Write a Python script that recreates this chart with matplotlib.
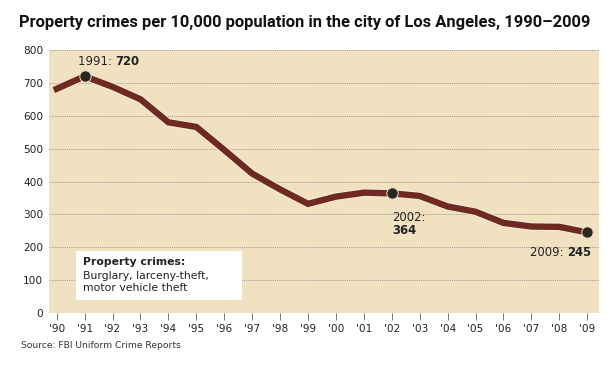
import matplotlib
matplotlib.use("Agg")
import matplotlib.pyplot as plt
import matplotlib.patheffects as pe
from matplotlib.patches import Rectangle

years = list(range(1990, 2010))
values = [682, 720, 688, 650, 580, 566, 496, 424, 376, 332,
          354, 366, 364, 356, 324, 308, 274, 263, 262, 245]
tick_labels = ["'%02d" % (y % 100) for y in years]
highlight_years = [1991, 2002, 2009]
yticks = [0, 100, 200, 300, 400, 500, 600, 700, 800]

title = "Property crimes per 10,000 population in the city of Los Angeles, 1990\u20132009"
source = "Source: FBI Uniform Crime Reports"
box_title = "Property crimes:"
box_body = "Burglary, larceny-theft,\nmotor vehicle theft"

bg = "#f0e1c1"
line_col = "#6e2a22"
dot_col = "#2b2620"
txt = "#222222"

plt.rcParams['font.family'] = ['DejaVu Sans']

fig = plt.figure(figsize=(6.11, 3.65), dpi=100)
ax = fig.add_axes([49/611, 1-313/365, 550/611, 263/365])
ax.set_facecolor(bg)
ax.set_xlim(1989.724, 2009.42)
ax.set_ylim(0, 800)

for s in ax.spines.values():
    s.set_visible(False)

for yv in yticks:
    ax.axhline(yv, color="#a29c90", lw=0.7, ls=(0, (1, 1)), zorder=1)

ax.set_yticks(yticks)
ax.set_yticklabels([str(v) for v in yticks], fontsize=7.6, color=txt)
ax.tick_params(axis='y', length=0, pad=4)
ax.set_xticks(years)
ax.set_xticklabels(tick_labels, fontsize=7.6, color=txt)
ax.tick_params(axis='x', length=5, width=0.7, color="#777777", pad=3, direction='out')

ax.plot(years, values, color=line_col, lw=4.6, solid_joinstyle='miter', zorder=3,
        path_effects=[pe.Stroke(linewidth=6.0, foreground="#f6ecd8"), pe.Normal()])

hx = list(highlight_years)
hy = [values[years.index(y)] for y in highlight_years]
ax.plot(hx, hy, 'o', color=dot_col, ms=8.2, mec="#e8dcc4", mew=0.7, zorder=4)

# annotations
fs = 8.4
ta = ax.text(1990.75, 765, "1991: ", fontsize=fs, color=txt, va='center', ha='left')
ax.annotate("720", xy=(1, 0.5), xycoords=ta, fontsize=fs, color=txt,
            fontweight='bold', va='center', ha='left')
ax.text(2002.0, 292, "2002:", fontsize=fs, color=txt, va='center', ha='left')
ax.text(2002.0, 250, "364", fontsize=fs, color=txt, fontweight='bold', va='center', ha='left')
tb = ax.text(2009.14, 185, "245", fontsize=fs, color=txt, fontweight='bold', va='center', ha='right')
ax.annotate("2009: ", xy=(0, 0.5), xycoords=tb, fontsize=fs, color=txt, va='center', ha='right')

# note box
box = Rectangle((76/611, 1-300/365), (242-76)/611, (300-251)/365,
                transform=fig.transFigure, facecolor='white', edgecolor='none', zorder=5)
fig.patches.append(box)
fig.text(83/611, 1-262/365, box_title, fontsize=7.8, fontweight='bold', color=txt,
         va='center', ha='left', zorder=6)
fig.text(83/611, 1-282/365, box_body, fontsize=7.8, color=txt, va='center', ha='left',
         linespacing=1.15, zorder=6)

fig.text(19/611, 1-22/365, title, fontsize=11.85, fontweight='bold', color="#111111",
         family=['Roboto', 'DejaVu Sans'], va='center', ha='left')
fig.text(21/611, 1-346/365, source, fontsize=6.6, color="#333333", va='center', ha='left')

fig.savefig("out.png", dpi=100, facecolor='white')
